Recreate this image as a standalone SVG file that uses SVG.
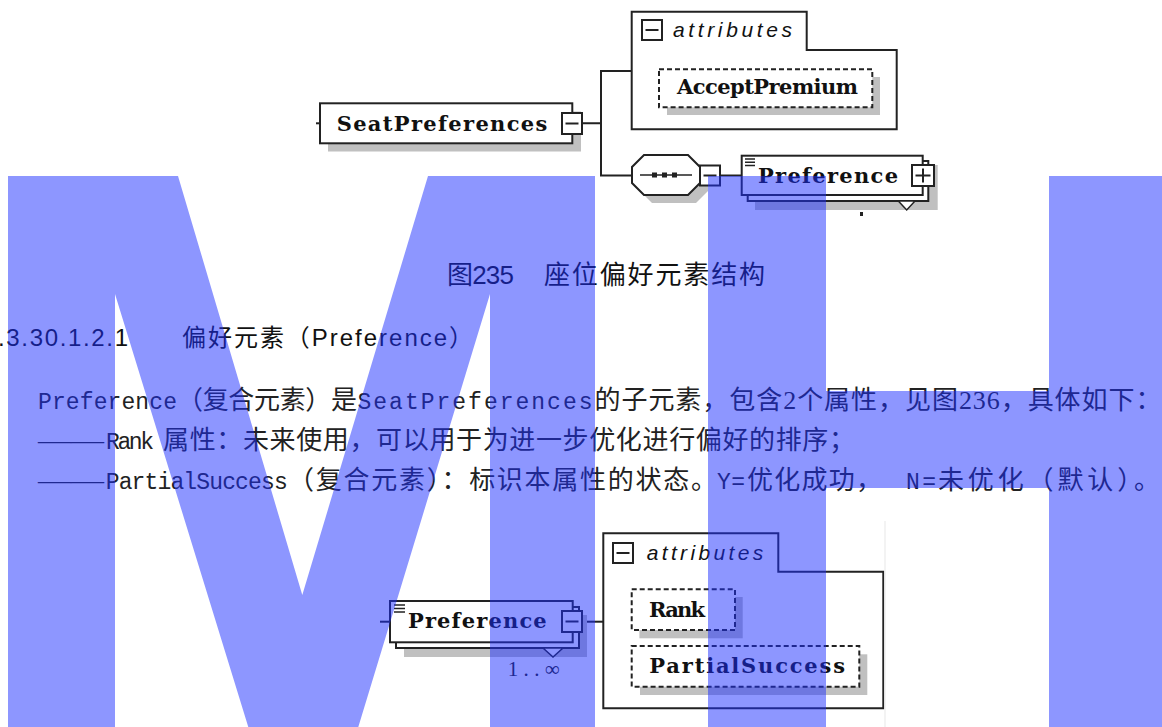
<svg xmlns="http://www.w3.org/2000/svg" width="1162" height="727" viewBox="0 0 1162 727">
<style>
.box{fill:#fff;stroke:#222;stroke-width:2}
.dash{fill:#fff;stroke:#222;stroke-width:2;stroke-dasharray:5 3}
.sh{fill:#c0c0c0}
.ln{fill:none;stroke:#222;stroke-width:2}
.thin{fill:none;stroke:#222;stroke-width:1.5}
.nm{font-family:"DejaVu Serif","Liberation Serif",serif;font-weight:bold;font-size:21px;fill:#111}
.it{font-family:"Liberation Sans","DejaVu Sans",sans-serif;font-style:italic;font-size:21px;fill:#111}
.body{font-family:"Liberation Serif","Noto Sans CJK SC",serif;font-size:26px;fill:#222}
.lat{font-family:"Liberation Mono","DejaVu Sans Mono",monospace;font-size:23px;fill:#222}
.hd{font-family:"Liberation Sans","Noto Sans CJK SC",sans-serif;font-size:24px;fill:#111}
.cap{font-family:"Liberation Sans","Noto Sans CJK SC",sans-serif;font-size:26px;fill:#111}
.wm{fill:#1c2dff;fill-opacity:0.5}
</style>

<!-- connectors -->
<g id="connectors">
  <path class="ln" d="M316 123.3H320"/>
  <path class="ln" d="M582 123.3H601M601 70V176.5M600 71H632M600 175.5H632"/>
  <path class="ln" d="M720 175.5H742"/>
  <path class="ln" d="M380 621.7H390"/>
  <path class="ln" d="M582 621.7H603.3"/>
</g>

<!-- SeatPreferences -->
<g id="node-seatpreferences">
  <rect class="sh" x="328" y="111.5" width="253" height="40"/>
  <rect class="box" x="320" y="103.3" width="252.3" height="40"/>
  <text class="nm" x="336.7" y="130.7" textLength="210.6">SeatPreferences</text>
  <rect class="box" x="562" y="113" width="20" height="21"/>
  <path class="ln" d="M565.5 123.5H578.5"/>
</g>

<!-- attributes (top) -->
<g id="node-attributes-top">
  <path class="box" d="M631.7 11.7H806.7V50H896.7V129.3H631.7Z"/>
  <rect class="box" x="642" y="20" width="20" height="20"/>
  <path class="ln" d="M645.5 30H658.5"/>
  <text class="it" x="673" y="37.3" textLength="119">attributes</text>
</g>
<g id="node-acceptpremium">
  <rect class="sh" x="667" y="77" width="213" height="38"/>
  <rect class="dash" x="659" y="69.3" width="213.3" height="38"/>
  <text class="nm" x="677" y="94" textLength="181">AcceptPremium</text>
</g>

<!-- sequence compositor -->
<g id="node-sequence">
  <polygon class="sh" points="652,163 696,163 708,175 708,191 696,203 652,203 640,191 640,175"/>
  <polygon class="box" points="644,155 688,155 700,167 700,183 688,195 644,195 632,183 632,167"/>
  <path class="thin" d="M640 175H692"/>
  <rect x="652" y="172.5" width="5" height="5" fill="#222"/>
  <rect x="662" y="172.5" width="5" height="5" fill="#222"/>
  <rect x="672" y="172.5" width="5" height="5" fill="#222"/>
  <rect class="box" x="700" y="165.5" width="20" height="20"/>
  <path class="ln" d="M703.5 175.5H716.5"/>
</g>

<!-- Preference (top) -->
<g id="node-preference-top">
  <rect class="sh" x="755" y="165" width="182.7" height="45"/>
  <rect class="box" x="747.7" y="161" width="180.6" height="40"/>
  <polygon points="898.3,201 915,201 906.7,210" fill="#fff" stroke="#222" stroke-width="1.5"/>
  <rect class="box" x="741.7" y="155.7" width="181" height="39.3"/>
  <path class="thin" d="M745 159H755M745 162.3H755M745 165.6H755"/>
  <text class="nm" x="758" y="182.7" textLength="140">Preference</text>
  <rect class="box" x="912" y="165" width="22" height="21"/>
  <path class="ln" d="M915.5 175.5H930.5M923 168.5V182.5"/>
  <rect x="860" y="212" width="3" height="4" fill="#222"/>
</g>

<!-- caption and text -->
<g id="texts">
  <text class="cap" x="447" y="284" textLength="67">图235</text>
  <text class="cap" x="544" y="284" textLength="221">座位偏好元素结构</text>

  <text class="hd" x="-2" y="346" textLength="130">.3.30.1.2.1</text>
  <text class="hd" x="182" y="346" textLength="291">偏好元素（Preference）</text>

  <text class="lat" x="38" y="409" textLength="139">Preference</text>
  <text class="body" x="177" y="409" textLength="180">（复合元素）是</text>
  <text class="lat" x="357.5" y="409" textLength="235">SeatPreferences</text>
  <text class="body" x="594.5" y="409" textLength="567">的子元素，包含2个属性，见图236，具体如下：</text>

  <text class="body" x="38" y="449" textLength="66" lengthAdjust="spacingAndGlyphs">——</text>
  <text class="lat" x="106" y="449" textLength="48">Rank</text>
  <text class="body" x="163" y="449" textLength="692">属性：未来使用，可以用于为进一步优化进行偏好的排序；</text>

  <text class="body" x="38" y="489" textLength="66" lengthAdjust="spacingAndGlyphs">——</text>
  <text class="lat" x="105.7" y="489" textLength="182">PartialSuccess</text>
  <text class="body" x="288" y="489" textLength="429">（复合元素）：标识本属性的状态。</text>
  <text class="lat" x="717" y="489" textLength="28">Y=</text>
  <text class="body" x="747" y="489" textLength="135">优化成功，</text>
  <text class="lat" x="906" y="489" textLength="30">N=</text>
  <text class="body" x="938" y="489" textLength="222">未优化（默认）。</text>
</g>

<!-- Preference (bottom) -->
<g id="node-preference-bottom">
  <rect class="sh" x="404" y="615" width="183" height="42"/>
  <rect class="box" x="396" y="607" width="183" height="41"/>
  <polygon points="543,648 563,648 553,657" fill="#fff" stroke="#222" stroke-width="1.5"/>
  <rect class="box" x="390" y="601" width="182.7" height="41.3"/>
  <path class="thin" d="M394 605H405M394 608.5H405M394 612H405"/>
  <text class="nm" x="408" y="628.3" textLength="138.7">Preference</text>
  <rect class="box" x="562" y="611" width="20" height="21"/>
  <path class="ln" d="M565.5 621.5H578.5"/>
  <text x="507.7" y="676" textLength="52" font-family="Liberation Serif, serif" font-size="21" fill="#222">1..∞</text>
</g>

<!-- attributes (bottom) -->
<g id="node-attributes-bottom">
  <path class="box" d="M603.3 533.3H778.3V571.7H883.3V708.3H603.3Z"/>
  <rect class="box" x="613" y="543" width="20" height="20"/>
  <path class="ln" d="M616.5 553H629.5"/>
  <text class="it" x="646.7" y="560" textLength="116.6">attributes</text>
</g>
<g id="node-rank">
  <rect class="sh" x="639.4" y="597" width="103.3" height="41.3"/>
  <rect class="dash" x="631.7" y="589.3" width="103.3" height="40.7"/>
  <text class="nm" x="649" y="616.7" textLength="56">Rank</text>
</g>
<g id="node-partialsuccess">
  <rect class="sh" x="640" y="654.3" width="227.3" height="40.7"/>
  <rect class="dash" x="631.7" y="646" width="227.6" height="40.7"/>
  <text class="nm" x="649.3" y="673.3" textLength="195.7">PartialSuccess</text>
</g>
<path d="M885 521V727" stroke="#efefef" stroke-width="1.5" fill="none"/>

<!-- watermark -->
<g id="watermark">
  <polygon class="wm" points="8,176 178,176 302.3,595 428,176 595,176 595,727 490,727 490,294 358.3,727 248.3,727 115,294 115,727 8,727"/>
  <polygon class="wm" points="708,176 826,176 826,391 1049,391 1049,176 1167,176 1167,727 1049,727 1049,488 826,488 826,727 708,727"/>
</g>
</svg>
